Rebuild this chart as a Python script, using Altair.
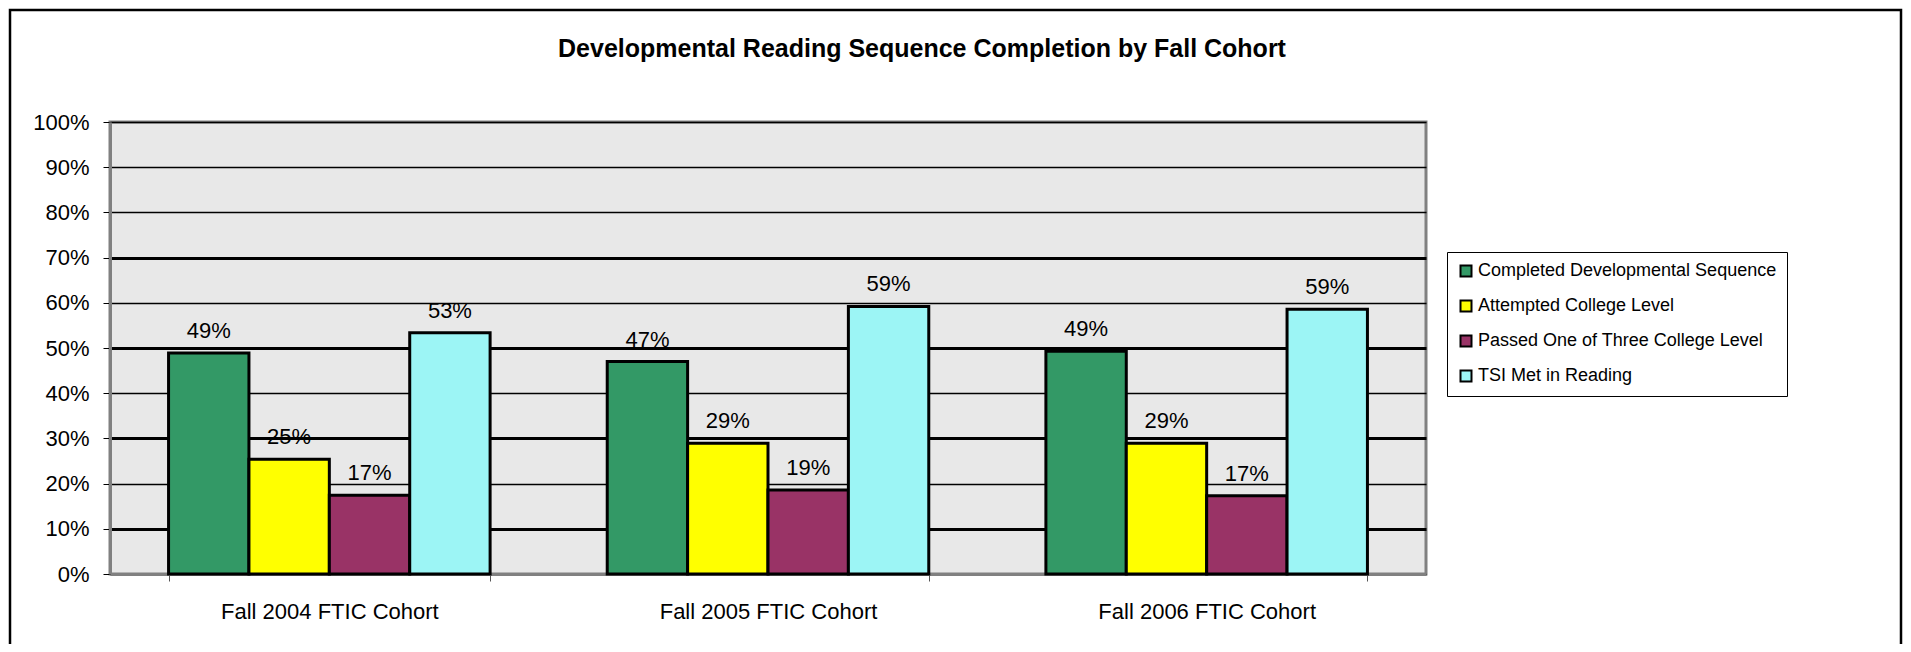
import altair as alt
import pandas as pd

cohorts = ["Fall 2004 FTIC Cohort", "Fall 2005 FTIC Cohort", "Fall 2006 FTIC Cohort"]
series = [
    "Completed Developmental Sequence",
    "Attempted College Level",
    "Passed One of Three College Level",
    "TSI Met in Reading",
]
completed = [48.9, 47.0, 49.3]
attempted = [25.4, 28.9, 28.9]
passed = [17.4, 18.6, 17.3]
tsi_met = [53.4, 59.2, 58.6]
colors = ["#339966", "#FFFF00", "#993366", "#9CF5F5"]
y_ticks = [0, 10, 20, 30, 40, 50, 60, 70, 80, 90, 100]
title_text = "Developmental Reading Sequence Completion by Fall Cohort"

rows = []
for i, c in enumerate(cohorts):
    for s, vals in zip(series, [completed, attempted, passed, tsi_met]):
        rows.append({"cohort": c, "series": s, "value": vals[i]})
df = pd.DataFrame(rows)

FONT = "Liberation Sans"

x_enc = alt.X(
    "cohort:N",
    sort=cohorts,
    title=None,
    scale=alt.Scale(paddingInner=0.267, paddingOuter=0.1335),
    axis=alt.Axis(
        labelAngle=0,
        labelFont=FONT,
        labelFontSize=22,
        labelColor="black",
        labelPadding=20,
        labelLimit=500,
        tickBand="extent",
        tickColor="#555555",
        tickSize=7,
        domainColor="#808080",
        domainWidth=3,
        grid=False,
    ),
)
xo_enc = alt.XOffset("series:N", sort=series, scale=alt.Scale(paddingInner=0, paddingOuter=0))
y_enc = alt.Y(
    "value:Q",
    title=None,
    scale=alt.Scale(domain=[0, 100], nice=False),
    axis=alt.Axis(
        values=y_ticks,
        labelExpr="datum.value + '%'",
        labelFont=FONT,
        labelFontSize=22,
        labelColor="black",
        labelPadding=14,
        tickColor="black",
        tickSize=7,
        domainColor="#808080",
        domainWidth=3,
        grid=True,
        gridColor="black",
        gridWidth={"condition": {"test": "datum.value % 20 == 10 && datum.value < 80", "value": 3}, "value": 1.3},
    ),
)

base = alt.Chart(df)

bars = base.mark_bar(stroke="black", strokeWidth=3).encode(
    x=x_enc,
    xOffset=xo_enc,
    y=y_enc,
    color=alt.Color(
        "series:N",
        sort=series,
        scale=alt.Scale(domain=series, range=colors),
        legend=alt.Legend(
            title=None,
            orient="none",
            legendX=1337,
            legendY=130,
            direction="vertical",
            fillColor="white",
            strokeColor="black",
            padding=10,
            rowPadding=15,
            labelFont=FONT,
            labelFontSize=18,
            labelColor="black",
            labelLimit=400,
            symbolType="square",
            symbolSize=121,
            symbolStrokeColor="black",
            symbolStrokeWidth=2,
            symbolOpacity=1,
            labelOffset=3,
        ),
    ),
)

labels = base.mark_text(
    font=FONT, fontSize=22, color="black", baseline="bottom", dy=-10
).transform_calculate(
    label="format(datum.value, '.0f') + '%'"
).encode(
    x=alt.X("cohort:N", sort=cohorts),
    xOffset=alt.XOffset("series:N", sort=series),
    y=alt.Y("value:Q"),
    text="label:N",
)

deco = alt.Chart(pd.DataFrame({"t": [title_text]}))

frame = deco.mark_rect(
    fillOpacity=0, stroke="black", strokeWidth=2.5
).encode(
    x=alt.value(-100), x2=alt.value(1791), y=alt.value(-112), y2=alt.value(530)
)

title = deco.mark_text(
    font=FONT, fontSize=25, fontWeight="bold", color="black", baseline="middle", align="center"
).encode(
    x=alt.value(812), y=alt.value(-73), text="t:N"
)

chart = alt.layer(frame, title, bars, labels).properties(
    width=1316,
    height=452,
    autosize=alt.AutoSizeParams(type="none"),
    padding={"left": 102, "top": 114, "right": 477, "bottom": 70},
).configure_view(
    fill="#E8E8E8", stroke="#808080", strokeWidth=3
)

chart.save("out.html", embed_options={"renderer": "svg", "actions": False})
